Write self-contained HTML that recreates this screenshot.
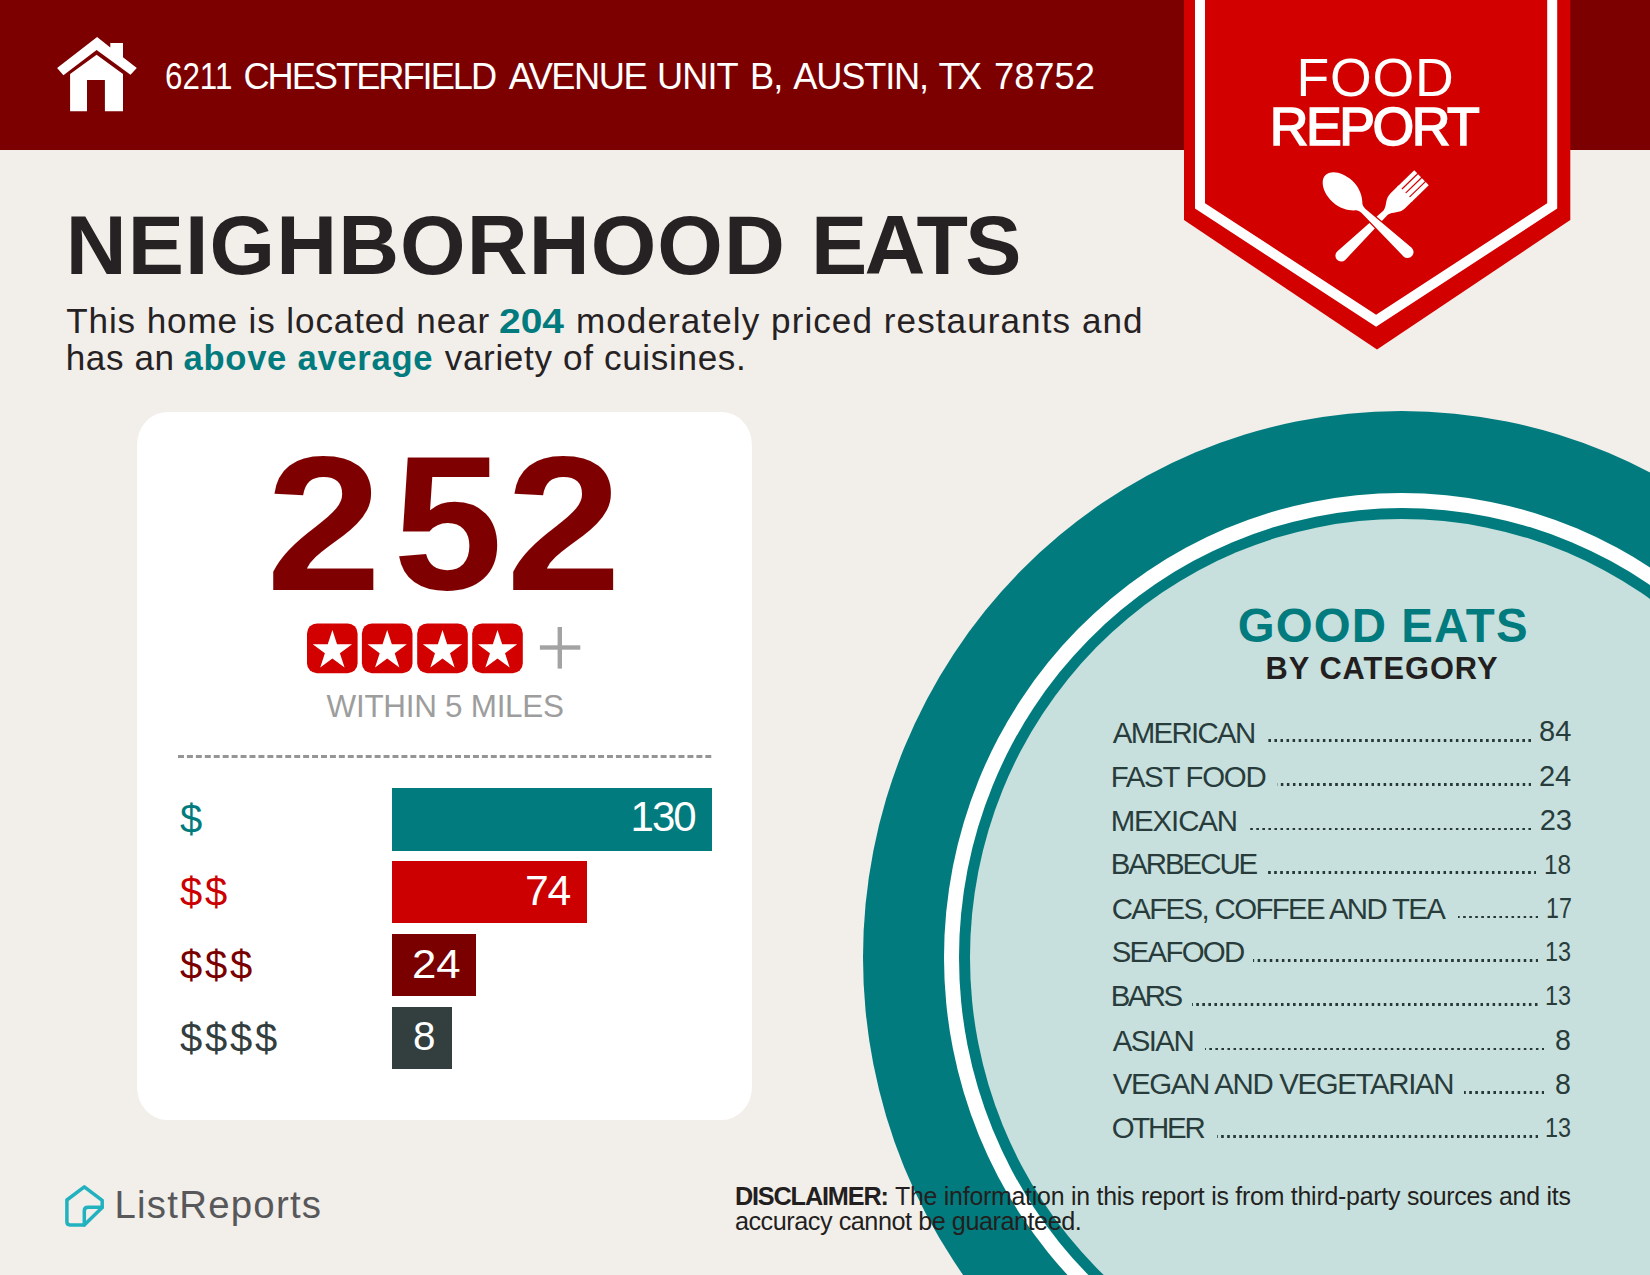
<!DOCTYPE html>
<html><head><meta charset="utf-8">
<style>
*{margin:0;padding:0;box-sizing:border-box}
html,body{width:1650px;height:1275px;overflow:hidden}
body{position:relative;background:#f2eeea;font-family:"Liberation Sans",sans-serif;color:#231f20}
.a{position:absolute;white-space:nowrap;line-height:1}
.circ{position:absolute;border-radius:50%}
.li{position:absolute;white-space:nowrap;line-height:1;font-size:29.42px;color:#283c3c;left:1112.7px}
.nm{position:absolute;white-space:nowrap;line-height:1;color:#283c3c;transform-origin:0 0}
.dots{position:absolute;height:2.6px;background-image:linear-gradient(to right,transparent 3.2px,#263838 3.2px);background-size:6.05px 2.6px;background-repeat:repeat-x;background-position:right top}
</style></head><body>
<div style="position:absolute;left:0;top:0;width:1650px;height:150px;background:#7d0000"></div>
<!-- house icon -->
<svg class="a" style="left:0;top:0" width="160" height="130" viewBox="0 0 160 130">
<path fill="#fff" d="M57.1,68.1 L97.1,37.1 L110.3,47.4 L110.3,43 L123,43 L123,57.3 L136.8,68.1 L130.5,74.8 L96.6,50.1 L63.4,75.2 Z"/>
<path fill="#fff" d="M70.1,74.1 L96.6,54.7 L123,74.1 L123,111.2 L104.9,111.2 L104.9,80.1 L87,80.1 L87,111.2 L70.1,111.2 Z"/>
</svg>
<div class="a" style="left:164.9px;top:59px;font-size:36.23px;color:#fff;transform:scaleX(0.865);transform-origin:0 0">6211</div>
<div class="a" style="left:243.4px;top:59px;font-size:36.23px;color:#fff;letter-spacing:-1.996px">CHESTERFIELD</div>
<div class="a" style="left:508.7px;top:59px;font-size:36.23px;color:#fff;letter-spacing:-1.479px">AVENUE</div>
<div class="a" style="left:657.0px;top:59px;font-size:36.23px;color:#fff;letter-spacing:-0.925px">UNIT</div>
<div class="a" style="left:750.1px;top:59px;font-size:36.23px;color:#fff;letter-spacing:-0.958px">B,</div>
<div class="a" style="left:793.2px;top:59px;font-size:36.23px;color:#fff;letter-spacing:-1.152px">AUSTIN,</div>
<div class="a" style="left:938.5px;top:59px;font-size:36.23px;color:#fff;letter-spacing:-2.824px">TX</div>
<div class="a" style="left:994.0px;top:59px;font-size:36.23px;color:#fff;letter-spacing:0.032px">78752</div>

<!-- badge -->
<svg class="a" style="left:0;top:0" width="1650" height="360" viewBox="0 0 1650 360">
<polygon fill="#d30000" points="1184,0 1570.3,0 1570.3,220 1377,349.6 1184,220"/>
<polyline fill="none" stroke="#fff" stroke-width="10" points="1200,0 1200,205.9 1376.1,320.7 1552.2,205.9 1552.2,0"/>
<g transform="translate(1421.5,177.7) rotate(45.8)" fill="#fff">
<path d="M-10.4,22 L10.4,22 L10.4,33 C10.4,41 4,44 3,50 L5.8,112 A5.8,5.8 0 0 1 -5.8,112 L-3,50 C-4,44 -10.4,41 -10.4,33 Z"/>
<rect x="-10.4" y="0" width="4.3" height="24"/>
<rect x="-4.9" y="0" width="4.3" height="24"/>
<rect x="0.6" y="0" width="4.3" height="24"/>
<rect x="6.1" y="0" width="4.3" height="24"/>
</g>
<g transform="translate(1325.3,175.3) rotate(-47)">
<path fill="#fff" stroke="#d30000" stroke-width="2.5" paint-order="stroke" d="M0,0 C8,0 14.5,10.7 14.5,23.5 C14.5,34 9.5,42 4.5,46.5 Q2.8,48.5 2.8,52 L6,112.5 A6,6 0 0 1 -6,112.5 L-2.8,52 Q-2.8,48.5 -4.5,46.5 C-9.5,42 -14.5,34 -14.5,23.5 C-14.5,10.7 -8,0 0,0 Z"/>
</g>
</svg>
<div class="a" id="food" style="left:1296.6px;top:50.61px;font-size:53.62px;letter-spacing:0.75px;color:#fff">FOOD</div>
<div class="a" id="report" style="left:1269.7px;top:99.71px;font-size:53.62px;letter-spacing:-2.475px;color:#fff;-webkit-text-stroke:1.6px #fff">REPORT</div>

<!-- title -->
<div class="a" id="title" style="left:65.8px;top:203.45px;font-size:84.29px;letter-spacing:1.085px;font-weight:bold;color:#262223">NEIGHBORHOOD</div>
<div class="a" style="left:811px;top:203.45px;font-size:84.29px;letter-spacing:-2.692px;font-weight:bold;color:#262223">EATS</div>
<div class="a" style="left:66.2px;top:303.11px;font-size:35.07px;letter-spacing:0.896px;color:#262223">This home is located near</div>
<div class="a" style="left:498.67px;top:303.54px;font-size:34.57px;color:#027b7e;font-weight:bold;transform:scaleX(1.127);transform-origin:0 0">204</div>
<div class="a" style="left:576px;top:303.11px;font-size:35.07px;letter-spacing:1.079px;color:#262223">moderately priced restaurants and</div>
<div class="a" style="left:65.7px;top:340.21px;font-size:35.07px;letter-spacing:0.605px;color:#262223">has an</div>
<div class="a" style="left:183.5px;top:340.64px;font-size:34.57px;letter-spacing:0.738px;color:#027b7e;font-weight:bold">above average</div>
<div class="a" style="left:444.7px;top:340.21px;font-size:35.07px;letter-spacing:0.665px;color:#262223">variety of cuisines.</div>

<!-- circle -->
<div class="circ" style="left:863.3px;top:410.7px;width:1076.6px;height:1093.4px;background:#027b7e"></div>
<div class="circ" style="left:944.2px;top:492.9px;width:914.8px;height:929.0px;background:#fff"></div>
<div class="circ" style="left:958.5px;top:507.8px;width:886.2px;height:899.2px;background:#027b7e"></div>
<div class="circ" style="left:969.9px;top:519.1px;width:863.4px;height:876.6px;background:#c8e0dd"></div>

<div class="a" id="goodeats" style="left:1237.8px;top:601.85px;font-size:47.43px;letter-spacing:1.085px;color:#027b7e;font-weight:bold">GOOD EATS</div>
<div class="a" id="bycat" style="left:1265.6px;top:653.6px;font-size:30.8px;letter-spacing:1.0px;color:#231f20;font-weight:bold">BY CATEGORY</div>

<div class="li" style="top:717.8px;letter-spacing:-1.668px">AMERICAN</div>
<div class="dots" style="left:1265px;width:266px;top:739.4px"></div>
<div class="li" style="top:761.8px;letter-spacing:-1.263px;left:1110.7px">FAST FOOD</div>
<div class="dots" style="left:1276.7px;width:254.3px;top:783.4px"></div>
<div class="li" style="top:806px;letter-spacing:-1.107px;left:1110.7px">MEXICAN</div>
<div class="dots" style="left:1247px;width:284px;top:827.6px"></div>
<div class="li" style="top:849px;letter-spacing:-2.038px;left:1110.7px">BARBECUE</div>
<div class="dots" style="left:1267.6px;width:268.8px;top:871.3px"></div>
<div class="li" style="top:893.6px;letter-spacing:-1.642px;left:1111.7px">CAFES, COFFEE AND TEA</div>
<div class="dots" style="left:1457.6px;width:80.3px;top:915.9px"></div>
<div class="li" style="top:937.4px;letter-spacing:-1.708px;left:1111.7px">SEAFOOD</div>
<div class="dots" style="left:1253px;width:285.4px;top:959.3px"></div>
<div class="li" style="top:981.4px;letter-spacing:-2.588px;left:1110.7px">BARS</div>
<div class="dots" style="left:1192.4px;width:345.5px;top:1003.3px"></div>
<div class="li" style="top:1026px;letter-spacing:-1.578px">ASIAN</div>
<div class="dots" style="left:1204.5px;width:339.5px;top:1047.9px"></div>
<div class="li" style="top:1069.4px;letter-spacing:-1.327px">VEGAN AND VEGETARIAN</div>
<div class="dots" style="left:1463.6px;width:80.4px;top:1091.3px"></div>
<div class="li" style="top:1113.3px;letter-spacing:-2.221px;left:1111.7px">OTHER</div>
<div class="dots" style="left:1216.7px;width:321.2px;top:1135.2px"></div>

<div class="nm" style="left:1539px;top:717.45px;font-size:29.01px">84</div>
<div class="nm" style="left:1539px;top:761.73px;font-size:29.14px;letter-spacing:-0.1px">24</div>
<div class="nm" style="left:1539.7px;top:805.73px;font-size:29.14px;letter-spacing:-0.2px">23</div>
<div class="nm" style="left:1544.3px;top:850.59px;font-size:28.03px;transform:scaleX(0.864)">18</div>
<div class="nm" style="left:1546.3px;top:893.95px;font-size:29px;transform:scaleX(0.80)">17</div>
<div class="nm" style="left:1545px;top:937.99px;font-size:28.03px;transform:scaleX(0.836)">13</div>
<div class="nm" style="left:1545px;top:981.99px;font-size:28.03px;transform:scaleX(0.836)">13</div>
<div class="nm" style="left:1555px;top:1026.41px;font-size:28.59px">8</div>
<div class="nm" style="left:1555px;top:1070.11px;font-size:28.59px">8</div>
<div class="nm" style="left:1545px;top:1113.89px;font-size:28.03px;transform:scaleX(0.836)">13</div>

<!-- card -->
<div style="position:absolute;left:137px;top:411.5px;width:615px;height:708.5px;background:#fff;border-radius:30px/33px"></div>
<div class="a" style="left:266px;top:427.59px;font-size:191.86px;font-weight:bold;color:#7f0000;transform:scaleX(1.084);transform-origin:0 0">2</div>
<div class="a" style="left:393.4px;top:428.33px;font-size:190.86px;font-weight:bold;color:#7f0000;transform:scaleX(1.033);transform-origin:0 0">5</div>
<div class="a" style="left:505.6px;top:427.59px;font-size:191.86px;font-weight:bold;color:#7f0000;transform:scaleX(1.082);transform-origin:0 0">2</div>

<!-- stars -->
<svg class="a" style="left:300px;top:615px" width="300" height="70" viewBox="300 615 300 70">
<defs><polygon id="st" fill="#fff" points="0,-20.7 4.65,-6.4 19.69,-6.4 7.52,2.44 12.17,16.75 0,7.9 -12.17,16.75 -7.52,2.44 -19.69,-6.4 -4.65,-6.4"/></defs>
<rect x="307" y="623.4" width="50.6" height="49.8" rx="10" fill="#d30000"/>
<rect x="361.9" y="623.4" width="50.6" height="49.8" rx="10" fill="#d30000"/>
<rect x="417.2" y="623.4" width="50.6" height="49.8" rx="10" fill="#d30000"/>
<rect x="472.2" y="623.4" width="50.6" height="49.8" rx="10" fill="#d30000"/>
<use href="#st" x="332.4" y="650.7"/>
<use href="#st" x="387.2" y="650.7"/>
<use href="#st" x="442.5" y="650.7"/>
<use href="#st" x="497.5" y="650.7"/>
<rect x="539.9" y="645.3" width="40.4" height="4.4" fill="#a3a3a3"/>
<rect x="557.6" y="627" width="4.4" height="41.6" fill="#a3a3a3"/>
</svg>
<div class="a" id="within" style="left:326.6px;top:691.08px;font-size:31.45px;letter-spacing:-0.283px;color:#9d9d9d">WITHIN 5 MILES</div>
<div style="position:absolute;left:177.9px;top:755px;width:534.5px;height:3px;background-image:linear-gradient(to right,#959595 5.9px,transparent 5.9px);background-size:8.95px 3px;background-repeat:repeat-x"></div>

<!-- bars -->
<div style="position:absolute;left:392.2px;top:788.2px;width:319.6px;height:62.4px;background:#027b7e"></div>
<div style="position:absolute;left:392.2px;top:861.2px;width:194.8px;height:62.3px;background:#cc0000"></div>
<div style="position:absolute;left:392.2px;top:934.1px;width:83.6px;height:62.4px;background:#7a0000"></div>
<div style="position:absolute;left:392.2px;top:1007px;width:59.6px;height:62.4px;background:#333e3f"></div>
<div class="a" style="left:630.6px;top:796.22px;font-size:42.03px;letter-spacing:-2.017px;color:#fff">130</div>
<div class="a" style="left:525px;top:869.04px;font-size:42.71px;letter-spacing:-1.149px;color:#fff">74</div>
<div class="a" style="left:412px;top:942.91px;font-size:41.57px;color:#fff;transform:scaleX(1.053);transform-origin:0 0">24</div>
<div class="a" style="left:413.1px;top:1016.48px;font-size:40.42px;color:#fff">8</div>

<div class="a" style="left:179.9px;top:799px;font-size:40px;letter-spacing:2.8px;color:#027b7e">$</div>
<div class="a" style="left:179.9px;top:872px;font-size:40px;letter-spacing:2.8px;color:#cc0000">$$</div>
<div class="a" style="left:179.9px;top:945px;font-size:40px;letter-spacing:2.8px;color:#7a0000">$$$</div>
<div class="a" style="left:179.9px;top:1018px;font-size:40px;letter-spacing:2.8px;color:#333e3f">$$$$</div>

<!-- footer -->
<svg class="a" style="left:60px;top:1180px" width="50" height="50" viewBox="60 1180 50 50">
<g fill="none" stroke="#22b2bf" stroke-width="3.5" stroke-linejoin="round" stroke-linecap="round">
<path d="M84.3,1186.9 L102.2,1200.4 L102.2,1207.5 L84.3,1224.9 L70,1224.9 Q66.9,1224.9 66.9,1221.8 L66.9,1200 Z"/>
<path d="M84.3,1224.9 L84.3,1211 Q84.3,1207.3 88,1207.3 L102.2,1207.3"/>
</g>
</svg>
<div class="a" id="logo" style="left:114.5px;top:1185.79px;font-size:38.41px;letter-spacing:1.233px;color:#58585a">ListReports</div>
<div class="a" style="left:734.9px;top:1184.05px;font-size:25.22px;letter-spacing:-1.132px;color:#231f20;font-weight:bold">DISCLAIMER:</div>
<div class="a" style="left:895px;top:1184.11px;font-size:24.86px;letter-spacing:-0.23px;color:#231f20">The information in this report is from third-party sources and its</div>
<div class="a" style="left:734.9px;top:1208.65px;font-size:25.22px;letter-spacing:-0.462px;color:#231f20">accuracy cannot be guaranteed.</div>
</body></html>
